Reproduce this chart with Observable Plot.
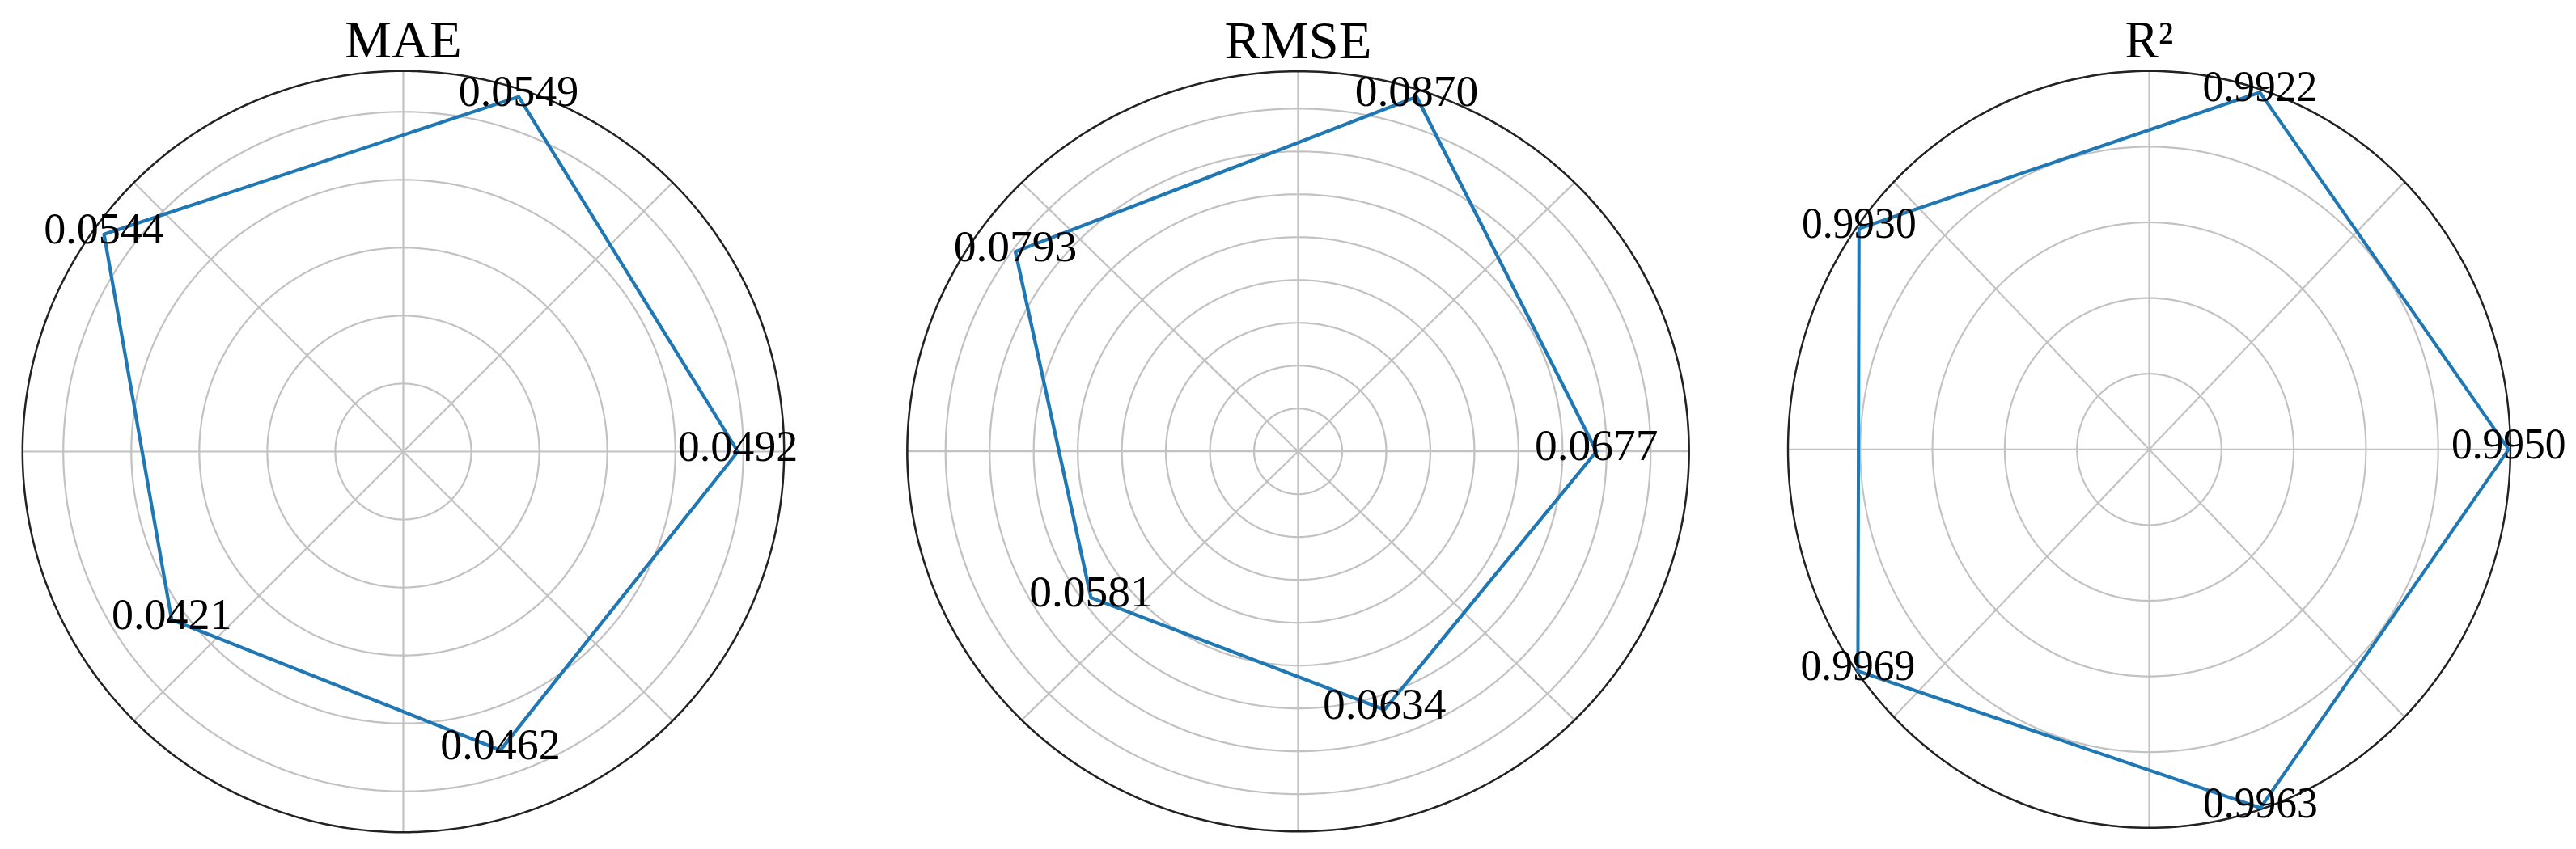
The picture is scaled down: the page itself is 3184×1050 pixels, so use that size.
<!DOCTYPE html>
<html>
<head>
<meta charset="utf-8">
<script src="https://cdn.jsdelivr.net/npm/d3@7"></script>
<script src="https://cdn.jsdelivr.net/npm/@observablehq/plot@0.6"></script>
<style>
  html, body { margin: 0; padding: 0; background: #fff; }
  #chart { position: relative; width: 3184px; height: 1050px; overflow: hidden; background: #fff; }
  #chart svg { position: absolute; top: 0; }
</style>
</head>
<body>
<div id="chart"></div>
<script>
// ---- data ----
const metricTitles = ["MAE", "RMSE", "R²"];
const axisAngles = [0, 72, 144, 216, 288];          // degrees, counter-clockwise from east
const maeValues  = [0.0492, 0.0549, 0.0544, 0.0421, 0.0462];
const rmseValues = [0.0677, 0.0870, 0.0793, 0.0581, 0.0634];
const r2Values   = [0.9950, 0.9922, 0.9930, 0.9969, 0.9963];
const maeRings   = [0.01, 0.02, 0.03, 0.04, 0.05];
const rmseRings  = [0.01, 0.02, 0.03, 0.04, 0.05, 0.06, 0.07, 0.08];
const r2Rings    = [0.2, 0.4, 0.6, 0.8, 1.0];
const radialMax  = [0.056, 0.0887, 1.0];
const spokeAngles = [0, 45, 90, 135, 180, 225, 270, 315];

// ---- layout (page pixels) ----
const layouts = [
  {cx: 497.5,  cy: 558,   ry: 470.7, sx: 1.0},
  {cx: 1604,   cy: 557.7, ry: 470,   sx: 1.028},
  {cx: 2655.5, cy: 555.3, ry: 468,   sx: 0.954}
];

const FONT = "'Liberation Serif', 'Times New Roman', serif";
const polar = (r, deg) => { const a = deg * Math.PI / 180; return [r * Math.cos(a), r * Math.sin(a)]; };

function panel(i, values, rings) {
  const L = layouts[i];
  const rmax = radialMax[i];
  const W = 1060, H = 1050, cxLocal = W / 2;
  const pts = values.map((v, j) => { const [x, y] = polar(v, axisAngles[j]); return {x, y, label: v.toFixed(4)}; });
  const closed = [...pts, pts[0]];
  const ringPts = rings.flatMap(r => d3.range(0, 361).map(a => { const [x, y] = polar(r, a); return {x, y, ring: r}; }));
  const spinePts = d3.range(0, 361).map(a => { const [x, y] = polar(rmax, a); return {x, y}; });
  const spokes = spokeAngles.map(a => { const [x, y] = polar(rmax, a); return {x2: x, y2: y}; });

  const svg = Plot.plot({
    width: W, height: H, margin: 0,
    x: {domain: [-rmax, rmax], range: [cxLocal - L.ry, cxLocal + L.ry], axis: null},
    y: {domain: [-rmax, rmax], range: [L.cy + L.ry, L.cy - L.ry], axis: null},
    style: {background: "transparent", overflow: "visible", fontFamily: FONT},
    marks: [
      Plot.line(ringPts, {x: "x", y: "y", z: "ring", stroke: "#c2c2c2", strokeWidth: 2.2}),
      Plot.link(spokes, {x1: () => 0, y1: () => 0, x2: "x2", y2: "y2", stroke: "#c2c2c2", strokeWidth: 2.2}),
      Plot.line(spinePts, {x: "x", y: "y", stroke: "#222222", strokeWidth: 2.5}),
      Plot.line(closed, {x: "x", y: "y", stroke: "#1f77b4", strokeWidth: 4.2, strokeLinejoin: "round"}),
      Plot.text(pts, {x: "x", y: "y", text: "label", fontSize: 54, fontFamily: FONT, fill: "black", dy: -6}),
      Plot.text([metricTitles[i]], {x: () => 0, y: () => rmax, text: d => d, lineAnchor: "bottom",
        dy: -16.6, fontSize: 65, fontFamily: FONT, fill: "black"})
    ]
  });
  svg.style.left = (L.cx - cxLocal) + "px";
  svg.style.maxWidth = "none";
  svg.style.transformOrigin = cxLocal + "px 0px";
  svg.style.transform = "scaleX(" + L.sx + ")";
  return svg;
}

const chart = document.getElementById("chart");
chart.appendChild(panel(0, maeValues, maeRings));
chart.appendChild(panel(1, rmseValues, rmseRings));
chart.appendChild(panel(2, r2Values, r2Rings));
</script>
</body>
</html>
